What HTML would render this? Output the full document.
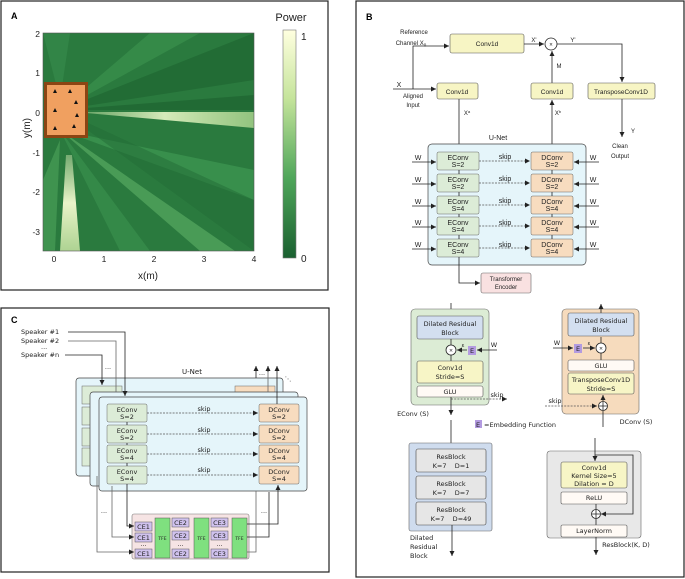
<!DOCTYPE html>
<html><head><meta charset="utf-8"><style>
html,body{margin:0;padding:0;background:#fff}
svg{display:block;font-family:"Liberation Sans","DejaVu Sans",sans-serif}
.t{font-size:7px;fill:#222;text-anchor:middle}
.d{font-family:"DejaVu Sans",sans-serif;font-size:6.5px;fill:#222;text-anchor:middle}
.l{stroke:#222;stroke-width:0.8;fill:none}
.g{stroke:#666;stroke-width:0.8;fill:none}
.dash{stroke:#555;stroke-width:0.8;stroke-dasharray:2,1.2;fill:none}
</style></head><body>
<svg width="685" height="579" viewBox="0 0 685 579" xmlns="http://www.w3.org/2000/svg">
<defs>
<marker id="a" markerWidth="6" markerHeight="6" refX="5" refY="3" orient="auto" markerUnits="userSpaceOnUse"><path d="M0,0.5 L5,3 L0,5.5z" fill="#222"/></marker>
<linearGradient id="cb" x1="0" y1="0" x2="0" y2="1"><stop offset="0" stop-color="#ffffe0"/><stop offset="0.3" stop-color="#c5e49b"/><stop offset="0.65" stop-color="#4fa65a"/><stop offset="1" stop-color="#1a6030"/></linearGradient>
<linearGradient id="bm" x1="0" y1="0" x2="1" y2="0"><stop offset="0" stop-color="#d8f0b0" stop-opacity="0.3"/><stop offset="0.5" stop-color="#e8f7c8" stop-opacity="0.9"/><stop offset="1" stop-color="#bfe39a" stop-opacity="0.7"/></linearGradient>
<linearGradient id="bm2" x1="0" y1="0" x2="0" y2="1"><stop offset="0" stop-color="#e8f5c0" stop-opacity="0.4"/><stop offset="0.5" stop-color="#f4fad0" stop-opacity="0.95"/><stop offset="1" stop-color="#cfe9a8" stop-opacity="0.8"/></linearGradient>
<clipPath id="pc"><rect x="43" y="33" width="211" height="218"/></clipPath>
</defs>

<!-- Panel A -->
<rect x="1" y="1" width="327" height="289" fill="#fff" stroke="#222" stroke-width="1.2"/>
<text x="11" y="19" style="font-size:9px;font-weight:bold">A</text>
<g clip-path="url(#pc)">
<rect x="43" y="33" width="211" height="218" fill="#2a7a3e"/>
<polygon points="60,110 254,33 254,80" fill="#1f6632" opacity="0.7"/>
<polygon points="60,110 150,33 200,33" fill="#3d9450" opacity="0.6"/>
<polygon points="60,110 254,95 254,110" fill="#1c5f2e" opacity="0.6"/>
<polygon points="75,112 254,112 254,128" fill="url(#bm)"/>
<polygon points="60,130 254,170 254,200" fill="#3f9853" opacity="0.7"/>
<polygon points="60,130 200,251 235,251" fill="#5fb068" opacity="0.6"/>
<polygon points="60,130 120,251 150,251" fill="#3c9250" opacity="0.6"/>
<polygon points="60,140 43,180 43,251 55,251" fill="#4ea45c" opacity="0.6"/>
<polygon points="66,155 60,251 80,251 72,155" fill="url(#bm2)"/>
<polygon points="60,100 43,33 70,33" fill="#3a9050" opacity="0.5"/>
<polygon points="60,110 254,200 254,251" fill="#226c36" opacity="0.5"/>
</g>
<rect x="43" y="33" width="211" height="218" fill="none" stroke="#555" stroke-width="0.6"/>
<rect x="45.5" y="83.5" width="41" height="53" fill="#f0a060" stroke="#8b4513" stroke-width="3"/>
<g fill="#111" font-size="5">
<polygon points="55,89 53,93 57,93"/><polygon points="70,89 68,93 72,93"/><polygon points="76,100 74,104 78,104"/>
<polygon points="55,108 53,112 57,112"/><polygon points="77,113 75,117 79,117"/><polygon points="55,126 53,130 57,130"/><polygon points="74,124 72,128 76,128"/>
</g>
<g style="font-size:8.5px" fill="#222" text-anchor="end">
<text x="40" y="37">2</text><text x="40" y="76">1</text><text x="40" y="116">0</text><text x="40" y="156">-1</text><text x="40" y="195">-2</text><text x="40" y="235">-3</text>
</g>
<g style="font-size:8.5px" fill="#222" text-anchor="middle">
<text x="54" y="262">0</text><text x="104" y="262">1</text><text x="154" y="262">2</text><text x="204" y="262">3</text><text x="254" y="262">4</text>
</g>
<text x="148" y="279" style="font-size:10px" text-anchor="middle" fill="#222">x(m)</text>
<text transform="translate(30,128) rotate(-90)" style="font-size:10px" text-anchor="middle" fill="#222">y(m)</text>
<rect x="283" y="30" width="13" height="228" fill="url(#cb)" stroke="#777" stroke-width="0.6"/>
<text x="291" y="21" style="font-size:11px" text-anchor="middle" fill="#222">Power</text>
<text x="301" y="40" style="font-size:10px" fill="#222">1</text>
<text x="301" y="262" style="font-size:10px" fill="#222">0</text>

<!-- Panel B -->
<rect x="356" y="1" width="328" height="576" fill="#fff" stroke="#222" stroke-width="1.2"/>
<text x="366" y="20" style="font-size:9px;font-weight:bold">B</text>
<text class="t" x="414" y="34" style="font-size:6px">Reference</text>
<text class="t" x="411" y="45" style="font-size:6px">Channel X<tspan font-size="4.5" dy="1.5">0</tspan></text>
<rect x="450" y="34" width="74" height="19" rx="2" fill="#f7f5c4" stroke="#555" stroke-width="0.6"/>
<text class="t" x="487" y="46" style="font-size:6.5px">Conv1d</text>
<path class="l" d="M413,89 V46 H449" marker-end="url(#a)"/>
<path class="l" d="M393,89 H436" marker-end="url(#a)"/>
<text class="t" x="399" y="87">X</text>
<text class="t" x="413" y="98" style="font-size:6px">Aligned</text>
<text class="t" x="413" y="107" style="font-size:6px">Input</text>
<path class="l" d="M524,44 H544" marker-end="url(#a)"/>
<text class="t" x="534" y="42" style="font-size:6px">X'</text>
<circle cx="551" cy="44" r="6" fill="#fff" stroke="#222" stroke-width="0.8"/>
<text class="t" x="551" y="46.5" style="font-size:6px">×</text>
<text class="t" x="573" y="42" style="font-size:6px">Y'</text>
<path class="l" d="M557,44 H622 V82" marker-end="url(#a)"/>
<text class="t" x="559" y="68" style="font-size:6px">M</text>
<path class="l" d="M552,83 V51" marker-end="url(#a)"/>
<rect x="437" y="83" width="41" height="16" rx="2" fill="#f7f5c4" stroke="#555" stroke-width="0.6"/>
<text class="t" x="457" y="94" style="font-size:6.5px">Conv1d</text>
<rect x="531" y="83" width="42" height="16" rx="2" fill="#f7f5c4" stroke="#555" stroke-width="0.6"/>
<text class="t" x="552" y="94" style="font-size:6.5px">Conv1d</text>
<rect x="588" y="83" width="67" height="16" rx="2" fill="#f7f5c4" stroke="#555" stroke-width="0.6"/>
<text class="t" x="621" y="94" style="font-size:6.5px">TransposeConv1D</text>
<path class="l" d="M459,99 V151" marker-end="url(#a)"/>
<text class="t" x="467" y="115" style="font-size:6px">X<tspan font-size="4" dy="-2">a</tspan></text>
<path class="l" d="M552,145 V100" marker-end="url(#a)"/>
<text class="t" x="558" y="115" style="font-size:6px">X<tspan font-size="4" dy="-2">b</tspan></text>
<path class="l" d="M622,99 V137" marker-end="url(#a)"/>
<text class="t" x="633" y="133" style="font-size:6px">Y</text>
<text class="t" x="620" y="148" style="font-size:6px">Clean</text>
<text class="t" x="620" y="158" style="font-size:6px">Output</text>
<text class="t" x="498" y="140">U-Net</text>
<rect x="428" y="144" width="158" height="121" rx="4" fill="#e5f5fa" stroke="#444" stroke-width="0.7"/>
<g id="rowsB">
<rect x="437" y="152" width="42" height="18" rx="1.5" fill="#dcecd7" stroke="#666" stroke-width="0.5"/>
<rect x="437" y="174" width="42" height="18" rx="1.5" fill="#dcecd7" stroke="#666" stroke-width="0.5"/>
<rect x="437" y="196" width="42" height="18" rx="1.5" fill="#dcecd7" stroke="#666" stroke-width="0.5"/>
<rect x="437" y="217" width="42" height="18" rx="1.5" fill="#dcecd7" stroke="#666" stroke-width="0.5"/>
<rect x="437" y="239" width="42" height="18" rx="1.5" fill="#dcecd7" stroke="#666" stroke-width="0.5"/>
<rect x="531" y="152" width="42" height="18" rx="1.5" fill="#f7dcbf" stroke="#666" stroke-width="0.5"/>
<rect x="531" y="174" width="42" height="18" rx="1.5" fill="#f7dcbf" stroke="#666" stroke-width="0.5"/>
<rect x="531" y="196" width="42" height="18" rx="1.5" fill="#f7dcbf" stroke="#666" stroke-width="0.5"/>
<rect x="531" y="217" width="42" height="18" rx="1.5" fill="#f7dcbf" stroke="#666" stroke-width="0.5"/>
<rect x="531" y="239" width="42" height="18" rx="1.5" fill="#f7dcbf" stroke="#666" stroke-width="0.5"/>
</g>
<g style="font-size:6px">
<text class="t" x="458" y="160">EConv</text><text class="t" x="458" y="167">S=2</text>
<text class="t" x="458" y="182">EConv</text><text class="t" x="458" y="189">S=2</text>
<text class="t" x="458" y="204">EConv</text><text class="t" x="458" y="211">S=4</text>
<text class="t" x="458" y="225">EConv</text><text class="t" x="458" y="232">S=4</text>
<text class="t" x="458" y="247">EConv</text><text class="t" x="458" y="254">S=4</text>
<text class="t" x="552" y="160">DConv</text><text class="t" x="552" y="167">S=2</text>
<text class="t" x="552" y="182">DConv</text><text class="t" x="552" y="189">S=2</text>
<text class="t" x="552" y="204">DConv</text><text class="t" x="552" y="211">S=4</text>
<text class="t" x="552" y="225">DConv</text><text class="t" x="552" y="232">S=4</text>
<text class="t" x="552" y="247">DConv</text><text class="t" x="552" y="254">S=4</text>
<text class="t" x="505" y="159">skip</text><text class="t" x="505" y="181">skip</text><text class="t" x="505" y="203">skip</text><text class="t" x="505" y="225">skip</text><text class="t" x="505" y="247">skip</text>
<text class="t" x="418" y="160">W</text><text class="t" x="418" y="182">W</text><text class="t" x="418" y="204">W</text><text class="t" x="418" y="225">W</text><text class="t" x="418" y="247">W</text>
<text class="t" x="593" y="160">W</text><text class="t" x="593" y="182">W</text><text class="t" x="593" y="204">W</text><text class="t" x="593" y="225">W</text><text class="t" x="593" y="247">W</text>
</g>
<g>
<path class="dash" d="M479,161 H530" marker-end="url(#a)"/><path class="dash" d="M479,183 H530" marker-end="url(#a)"/><path class="dash" d="M479,205 H530" marker-end="url(#a)"/><path class="dash" d="M479,226 H530" marker-end="url(#a)"/><path class="dash" d="M479,248 H530" marker-end="url(#a)"/>
<path class="l" d="M412,162 H436" marker-end="url(#a)"/><path class="l" d="M412,184 H436" marker-end="url(#a)"/><path class="l" d="M412,206 H436" marker-end="url(#a)"/><path class="l" d="M412,227 H436" marker-end="url(#a)"/><path class="l" d="M412,249 H436" marker-end="url(#a)"/>
<path class="l" d="M599,162 H574" marker-end="url(#a)"/><path class="l" d="M599,184 H574" marker-end="url(#a)"/><path class="l" d="M599,206 H574" marker-end="url(#a)"/><path class="l" d="M599,227 H574" marker-end="url(#a)"/><path class="l" d="M599,249 H574" marker-end="url(#a)"/>
<path class="l" d="M459,170 V174 M459,192 V196 M459,214 V217 M459,235 V239 M552,170 V174 M552,192 V196 M552,214 V217 M552,235 V239"/>
</g>
<path class="l" d="M459,257 V283 H480" marker-end="url(#a)"/>
<rect x="481" y="273" width="50" height="20" rx="2" fill="#f9e1e1" stroke="#666" stroke-width="0.6"/>
<text class="t" x="506" y="281" style="font-size:6px">Transformer</text>
<text class="t" x="506" y="289" style="font-size:6px">Encoder</text>

<!-- EConv block -->
<path class="l" d="M451,303 V315" marker-end="url(#a)"/>
<rect x="411" y="309" width="78" height="96" rx="4" fill="#dcecd5" stroke="#666" stroke-width="0.6"/>
<rect x="417" y="316" width="66" height="23" rx="2" fill="#d3dff0" stroke="#555" stroke-width="0.6"/>
<text class="d" x="450" y="326">Dilated Residual</text><text class="d" x="450" y="335">Block</text>
<path class="l" d="M451,339 V345"/>
<circle cx="451" cy="350" r="5" fill="#fff" stroke="#222" stroke-width="0.8"/>
<text class="t" x="451" y="352.5" style="font-size:6.5px">×</text>
<rect x="468" y="346" width="8" height="9" fill="#b39be0"/>
<text class="d" x="472" y="353">E</text>
<text class="d" x="463" y="347" style="font-size:5.5px">ε</text>
<path class="l" d="M467,350 H457" marker-end="url(#a)"/>
<path class="l" d="M497,350 H477" marker-end="url(#a)"/>
<text class="d" x="494" y="347">W</text>
<path class="l" d="M451,355 V361"/>
<rect x="417" y="361" width="66" height="22" rx="2" fill="#f7f5c6" stroke="#555" stroke-width="0.6"/>
<text class="d" x="450" y="370">Conv1d</text><text class="d" x="450" y="379">Stride=S</text>
<rect x="417" y="386" width="66" height="11" rx="2" fill="#fffaf5" stroke="#555" stroke-width="0.6"/>
<text class="d" x="450" y="394">GLU</text>
<path class="dash" d="M451,399 H507" marker-end="url(#a)"/>
<text class="d" x="497" y="397">skip</text>
<path class="l" d="M451,397 V415" marker-end="url(#a)"/>
<text class="d" x="413" y="416">EConv (S)</text>

<!-- DConv block -->
<rect x="562" y="309" width="77" height="105" rx="4" fill="#f6dbbd" stroke="#666" stroke-width="0.6"/>
<path class="l" d="M601,313 V304" marker-end="url(#a)"/>
<rect x="568" y="313" width="66" height="23" rx="2" fill="#d3dff0" stroke="#555" stroke-width="0.6"/>
<text class="d" x="601" y="323">Dilated Residual</text><text class="d" x="601" y="332">Block</text>
<path class="l" d="M601,343 V337"/>
<circle cx="601" cy="348" r="5" fill="#fff" stroke="#222" stroke-width="0.8"/>
<text class="t" x="601" y="350.5" style="font-size:6.5px">×</text>
<rect x="574" y="344" width="8" height="9" fill="#b39be0"/>
<text class="d" x="578" y="351">E</text>
<text class="d" x="589" y="345" style="font-size:5.5px">ε</text>
<path class="l" d="M553,348 H573" marker-end="url(#a)"/>
<path class="l" d="M583,348 H595" marker-end="url(#a)"/>
<text class="d" x="557" y="345">W</text>
<path class="l" d="M601,353 V360"/>
<rect x="568" y="360" width="66" height="11" rx="2" fill="#fffaf5" stroke="#555" stroke-width="0.6"/>
<text class="d" x="601" y="368">GLU</text>
<rect x="568" y="373" width="66" height="21" rx="2" fill="#f7f5c6" stroke="#555" stroke-width="0.6"/>
<text class="d" x="601" y="382">TransposeConv1D</text><text class="d" x="601" y="391">Stride=S</text>
<circle cx="603" cy="406" r="4.5" fill="#fff" stroke="#222" stroke-width="0.8"/>
<path class="l" d="M603,402 V410 M599,406 H607"/>
<path class="l" d="M603,401 V395" marker-end="url(#a)"/>
<path class="dash" d="M545,406 H597" marker-end="url(#a)"/>
<text class="d" x="555" y="403">skip</text>
<path class="l" d="M603,427 V411"/>
<text class="d" x="636" y="424">DConv (S)</text>
<rect x="475" y="420" width="7" height="8" fill="#b39be0"/>
<text class="d" x="478" y="427">E</text>
<text x="484" y="427" style="font-family:'DejaVu Sans',sans-serif;font-size:6.5px" fill="#222">=Embedding Function</text>

<!-- Dilated residual block -->
<path class="l" d="M451,420 V448" marker-end="url(#a)"/>
<rect x="409" y="443" width="83" height="88" rx="2" fill="#cfdcee" stroke="#666" stroke-width="0.6"/>
<rect x="416" y="449" width="70" height="23" rx="2" fill="#e6e6e6" stroke="#444" stroke-width="0.6"/>
<text class="d" x="451" y="459">ResBlock</text><text class="d" x="451" y="468">K=7&#160;&#160;&#160;&#160;D=1</text>
<rect x="416" y="476" width="70" height="23" rx="2" fill="#e6e6e6" stroke="#444" stroke-width="0.6"/>
<text class="d" x="451" y="486">ResBlock</text><text class="d" x="451" y="495">K=7&#160;&#160;&#160;&#160;D=7</text>
<rect x="416" y="502" width="70" height="23" rx="2" fill="#e6e6e6" stroke="#444" stroke-width="0.6"/>
<text class="d" x="451" y="512">ResBlock</text><text class="d" x="451" y="521">K=7&#160;&#160;&#160;&#160;D=49</text>
<path class="l" d="M452,525 V556" marker-end="url(#a)"/>
<text x="410" y="540" style="font-family:'DejaVu Sans',sans-serif;font-size:6.5px" fill="#222">Dilated</text>
<text x="410" y="549" style="font-family:'DejaVu Sans',sans-serif;font-size:6.5px" fill="#222">Residual</text>
<text x="410" y="558" style="font-family:'DejaVu Sans',sans-serif;font-size:6.5px" fill="#222">Block</text>

<!-- ResBlock(K,D) -->
<rect x="547" y="451" width="94" height="87" rx="3" fill="#e8e8e8" stroke="#666" stroke-width="0.6"/>
<path class="l" d="M595,438 V461" marker-end="url(#a)"/>
<path class="l" d="M595,455 H633 V514 H601" marker-end="url(#a)"/>
<rect x="561" y="462" width="66" height="26" rx="2" fill="#f7f5c6" stroke="#555" stroke-width="0.6"/>
<text class="d" x="594" y="470">Conv1d</text><text class="d" x="594" y="478">Kernel Size=5</text><text class="d" x="594" y="486">Dilation = D</text>
<rect x="561" y="492" width="66" height="12" rx="1.5" fill="#fffaf5" stroke="#555" stroke-width="0.6"/>
<text class="d" x="594" y="500">ReLU</text>
<path class="l" d="M596,504 V510"/>
<circle cx="596" cy="514" r="4.5" fill="#fff" stroke="#222" stroke-width="0.8"/>
<path class="l" d="M596,510 V518 M592,514 H600 M596,518.5 V525"/>
<rect x="561" y="525" width="66" height="12" rx="1.5" fill="#fffaf5" stroke="#555" stroke-width="0.6"/>
<text class="d" x="594" y="533">LayerNorm</text>
<path class="l" d="M596,537 V555" marker-end="url(#a)"/>
<text class="d" x="626" y="547">ResBlock(K, D)</text>

<!-- Panel C -->
<rect x="1" y="308" width="328" height="264" fill="#fff" stroke="#222" stroke-width="1.2"/>
<text x="11" y="323" style="font-size:9px;font-weight:bold">C</text>
<g style="font-family:'DejaVu Sans',sans-serif;font-size:6.5px" fill="#222">
<text x="21" y="334">Speaker #1</text><text x="21" y="343">Speaker #2</text><text x="41" y="349">...</text><text x="21" y="357">Speaker #n</text>
</g>
<rect x="76" y="378" width="207" height="98" rx="3" fill="#e5f5fa" stroke="#444" stroke-width="0.7"/>
<rect x="82" y="386" width="40" height="18" fill="#dcecd7" stroke="#666" stroke-width="0.5"/>
<rect x="82" y="407" width="40" height="18" fill="#dcecd7" stroke="#666" stroke-width="0.5"/>
<rect x="82" y="428" width="40" height="18" fill="#dcecd7" stroke="#666" stroke-width="0.5"/>
<rect x="82" y="448" width="40" height="18" fill="#dcecd7" stroke="#666" stroke-width="0.5"/>
<rect x="235" y="386" width="40" height="8" fill="#f7dcbf" stroke="#666" stroke-width="0.5"/>
<rect x="90" y="392" width="208" height="94" rx="3" fill="#e5f5fa" stroke="#444" stroke-width="0.7"/>
<rect x="99" y="397" width="208" height="94" rx="3" fill="#e5f5fa" stroke="#444" stroke-width="0.7"/>
<text class="d" x="192" y="374" style="font-size:7px">U-Net</text>
<text class="d" x="262" y="375">...</text><text class="d" x="288" y="381">⋱</text>
<path class="l" d="M68,332 H125 V396" marker-end="url(#a)"/>
<path class="g" d="M68,341 H116 V392"/>
<path class="l" d="M65,355 H102 V385" marker-end="url(#a)"/>
<text class="d" x="108" y="369">...</text>
<g>
<rect x="107" y="404" width="40" height="18" rx="1.5" fill="#dcecd7" stroke="#666" stroke-width="0.5"/>
<rect x="107" y="425" width="40" height="18" rx="1.5" fill="#dcecd7" stroke="#666" stroke-width="0.5"/>
<rect x="107" y="445" width="40" height="18" rx="1.5" fill="#dcecd7" stroke="#666" stroke-width="0.5"/>
<rect x="107" y="466" width="40" height="18" rx="1.5" fill="#dcecd7" stroke="#666" stroke-width="0.5"/>
<rect x="259" y="404" width="40" height="18" rx="1.5" fill="#f7dcbf" stroke="#666" stroke-width="0.5"/>
<rect x="259" y="425" width="40" height="18" rx="1.5" fill="#f7dcbf" stroke="#666" stroke-width="0.5"/>
<rect x="259" y="445" width="40" height="18" rx="1.5" fill="#f7dcbf" stroke="#666" stroke-width="0.5"/>
<rect x="259" y="466" width="40" height="18" rx="1.5" fill="#f7dcbf" stroke="#666" stroke-width="0.5"/>
</g>
<g class="d">
<text class="d" x="127" y="412">EConv</text><text class="d" x="127" y="419">S=2</text>
<text class="d" x="127" y="433">EConv</text><text class="d" x="127" y="440">S=2</text>
<text class="d" x="127" y="453">EConv</text><text class="d" x="127" y="460">S=4</text>
<text class="d" x="127" y="474">EConv</text><text class="d" x="127" y="481">S=4</text>
<text class="d" x="279" y="412">DConv</text><text class="d" x="279" y="419">S=2</text>
<text class="d" x="279" y="433">DConv</text><text class="d" x="279" y="440">S=2</text>
<text class="d" x="279" y="453">DConv</text><text class="d" x="279" y="460">S=4</text>
<text class="d" x="279" y="474">DConv</text><text class="d" x="279" y="481">S=4</text>
<text class="d" x="204" y="411">skip</text><text class="d" x="204" y="432">skip</text><text class="d" x="204" y="452">skip</text><text class="d" x="204" y="472">skip</text>
</g>
<path class="dash" d="M147,413 H258" marker-end="url(#a)"/><path class="dash" d="M147,434 H258" marker-end="url(#a)"/><path class="dash" d="M147,454 H258" marker-end="url(#a)"/><path class="dash" d="M147,475 H258" marker-end="url(#a)"/>
<path class="l" d="M127,422 V425 M127,443 V445 M127,463 V466"/>
<!-- outputs up -->
<path class="l" d="M256,378 V366" marker-end="url(#a)"/>
<path class="g" d="M268,392 V366" />
<path class="l" d="M268,372 V366" marker-end="url(#a)"/>
<path class="l" d="M277,404 V366" marker-end="url(#a)"/>
<!-- bottom module -->
<rect x="132" y="514" width="117" height="45" rx="2" fill="#f6e4e4" stroke="#777" stroke-width="0.6"/>
<g fill="#d0c2ee" stroke="#555" stroke-width="0.5">
<rect x="135" y="522" width="17" height="9"/><rect x="135" y="533" width="17" height="9"/><rect x="135" y="549" width="17" height="9"/>
<rect x="172" y="518" width="17" height="9"/><rect x="172" y="531" width="17" height="9"/><rect x="172" y="549" width="17" height="9"/>
<rect x="211" y="518" width="17" height="9"/><rect x="211" y="531" width="17" height="9"/><rect x="211" y="549" width="17" height="9"/>
</g>
<g fill="#7fe07f" stroke="#555" stroke-width="0.5">
<rect x="155" y="518" width="15" height="40"/><rect x="194" y="518" width="15" height="40"/><rect x="232" y="518" width="15" height="40"/>
</g>
<g class="d" style="font-size:6px">
<text class="d" x="143.5" y="529">CE1</text><text class="d" x="143.5" y="540">CE1</text><text class="d" x="143.5" y="546">...</text><text class="d" x="143.5" y="556">CE1</text>
<text class="d" x="180.5" y="525">CE2</text><text class="d" x="180.5" y="538">CE2</text><text class="d" x="180.5" y="546">...</text><text class="d" x="180.5" y="556">CE2</text>
<text class="d" x="219.5" y="525">CE3</text><text class="d" x="219.5" y="538">CE3</text><text class="d" x="219.5" y="546">...</text><text class="d" x="219.5" y="556">CE3</text>
<text class="d" x="162.5" y="540" style="font-size:4.5px">TFE</text><text class="d" x="201.5" y="540" style="font-size:4.5px">TFE</text><text class="d" x="239.5" y="540" style="font-size:4.5px">TFE</text>
</g>
<path class="l" d="M127,484 V526 H134" marker-end="url(#a)"/>
<path class="g" d="M112,486 V537 H134" marker-end="url(#a)"/>
<path class="g" d="M97,476 V552 H134" marker-end="url(#a)"/>
<text class="d" x="104" y="513">...</text><text class="d" x="264" y="513">...</text>
<path class="l" d="M247,524 H278 V485" marker-end="url(#a)"/>
<path class="l" d="M247,537 H269 V492"/>
<path class="g" d="M247,552 H256 V491"/>
</svg>
</body></html>
